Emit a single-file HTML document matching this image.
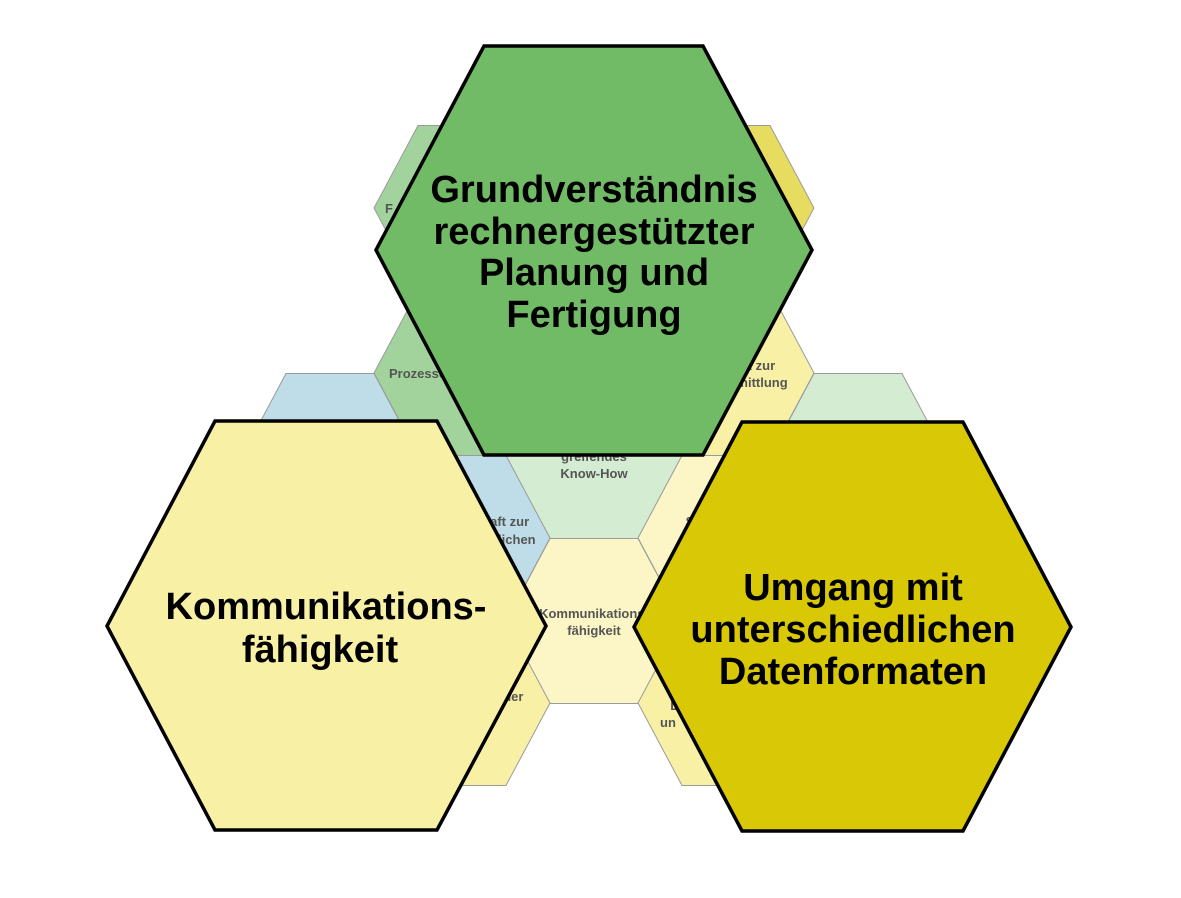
<!DOCTYPE html>
<html><head><meta charset="utf-8"><style>
html,body{margin:0;padding:0;background:#fff}
svg{display:block}
.s{stroke:#9a9a9a;stroke-width:1}
.t{font-family:"Liberation Sans",sans-serif;font-weight:bold;font-size:13px;fill:#555;text-anchor:middle}
.b{font-family:"Liberation Sans",sans-serif;font-weight:bold;font-size:38px;fill:#000;text-anchor:middle}
.k{stroke:#000;stroke-width:3.5;stroke-linejoin:miter}
</style></head><body>
<svg width="1181" height="898" viewBox="0 0 1181 898" xmlns="http://www.w3.org/2000/svg">
<defs><polygon id="h" points="-88,0 -44,-82.5 44,-82.5 88,0 44,82.5 -44,82.5"/></defs>
<use href="#h" x="462" y="208" fill="#a3d39c" class="s"/>
<use href="#h" x="726" y="208" fill="#e6dc60" class="s"/>
<use href="#h" x="594" y="291" fill="#a3d39c" class="s"/>
<use href="#h" x="462" y="373" fill="#a3d39c" class="s"/>
<use href="#h" x="726" y="373" fill="#f8f0a5" class="s"/>
<use href="#h" x="330" y="456" fill="#bfdde8" class="s"/>
<use href="#h" x="858" y="456" fill="#d4ecd2" class="s"/>
<use href="#h" x="594" y="456" fill="#d4ecd2" class="s"/>
<use href="#h" x="462" y="538" fill="#bfdde8" class="s"/>
<use href="#h" x="726" y="538" fill="#fcf6c6" class="s"/>
<use href="#h" x="594" y="621" fill="#fcf6c6" class="s"/>
<use href="#h" x="462" y="703" fill="#f8f0a5" class="s"/>
<use href="#h" x="726" y="703" fill="#f8f0a5" class="s"/>
<text class="t" x="594" y="461">greifendes</text>
<text class="t" x="594" y="478">Know-How</text>
<text class="t" x="594" y="618">Kommunikations-</text>
<text class="t" x="594" y="635">fähigkeit</text>
<text class="t" x="480" y="526">Bereitschaft zur</text>
<text class="t" x="480" y="544">unterschiedlichen</text>
<text class="t" x="389" y="378" style="text-anchor:start">Prozesse</text>
<text class="t" x="385" y="213" style="text-anchor:start">F</text>
<text class="t" x="726" y="370">Bereitschaft zur</text>
<text class="t" x="726" y="387">Wissensvermittlung</text>
<text class="t" x="690" y="526">S</text>
<text class="t" x="682" y="544">i</text>
<text class="t" x="500" y="701">mobiler</text>
<text class="t" x="675" y="710">D</text>
<text class="t" x="668" y="727">un</text>
<polygon class="k" fill="#72bb66" points="376,250 484,46 703,46 812,250 703,455 484,455"/>
<polygon class="k" fill="#f8f0a5" points="107,626 215,421 437,421 546,626 437,830 215,830"/>
<polygon class="k" fill="#d8c805" points="634,627 742,422 963,422 1071,627 963,831 742,831"/>
<text class="b" x="594" y="202">Grundverständnis</text>
<text class="b" x="594" y="244">rechnergestützter</text>
<text class="b" x="594" y="285">Planung und</text>
<text class="b" x="594" y="327">Fertigung</text>
<text class="b" x="326" y="619">Kommunikations-</text>
<text class="b" x="320" y="662">fähigkeit</text>
<text class="b" x="853" y="600">Umgang mit</text>
<text class="b" x="853" y="642">unterschiedlichen</text>
<text class="b" x="853" y="684">Datenformaten</text>
</svg>
</body></html>
